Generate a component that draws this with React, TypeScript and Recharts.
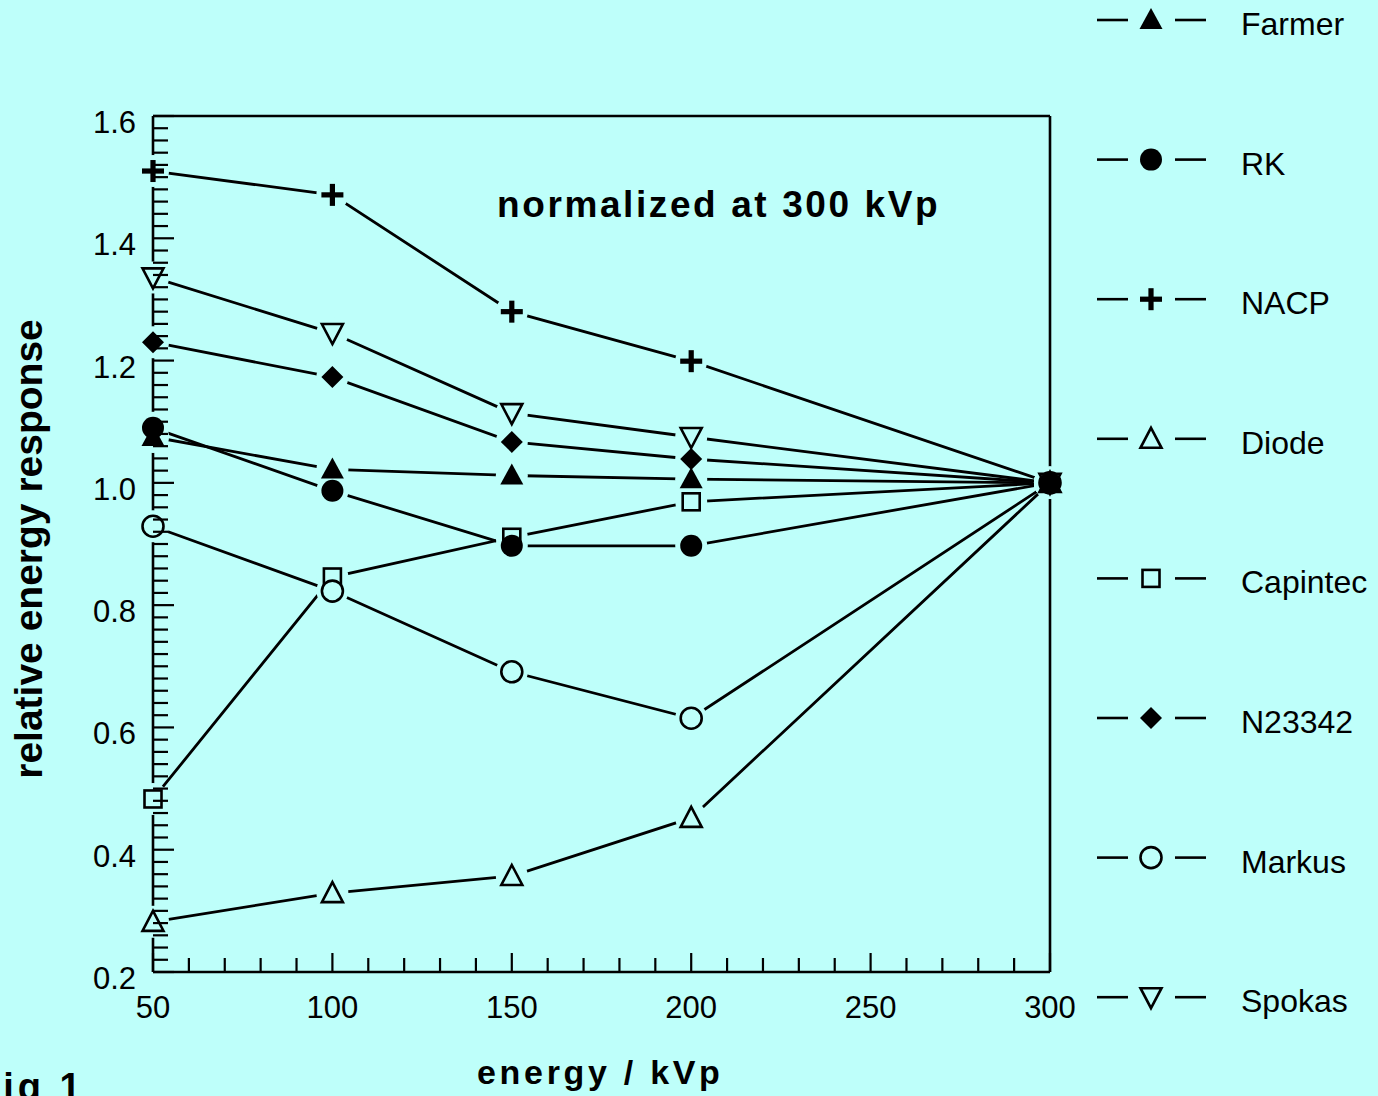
import React from "react";
import { LineChart, Line, XAxis, YAxis } from "recharts";

const BG = "#befffa";
const FONT = "'Liberation Sans', Arial, Helvetica, sans-serif";

const energies = [50, 100, 150, 200, 300];

const farmer = [1.075, 1.022, 1.012, 1.006, 1.0];
const rk = [1.09, 0.987, 0.897, 0.897, 1.0];
const nacp = [1.51, 1.471, 1.28, 1.199, 1.0];
const diode = [0.282, 0.329, 0.357, 0.452, 1.0];
const capintec = [0.483, 0.846, 0.911, 0.969, 1.0];
const n23342 = [1.23, 1.173, 1.067, 1.039, 1.0];
const markus = [0.929, 0.823, 0.691, 0.615, 1.0];
const spokas = [1.336, 1.245, 1.114, 1.075, 1.0];

const xMajorTicks = [50, 100, 150, 200, 250, 300];
const yMajorTicks = [0.2, 0.4, 0.6, 0.8, 1.0, 1.2, 1.4, 1.6];

// minor ticks: every 10 kVp on x, every 0.02 on y
const xTicks: number[] = [];
for (let e = 50; e <= 300; e += 10) xTicks.push(e);
const yTicks: number[] = [];
for (let h = 20; h <= 160; h += 2) yTicks.push(h / 100);

type Kind = "triUp" | "circle" | "plus" | "triUpOpen" | "square" | "diamond" | "circleOpen" | "triDownOpen";

const series: { name: string; values: number[]; kind: Kind; open: boolean }[] = [
  { name: "Farmer", values: farmer, kind: "triUp", open: false },
  { name: "RK", values: rk, kind: "circle", open: false },
  { name: "NACP", values: nacp, kind: "plus", open: false },
  { name: "Diode", values: diode, kind: "triUpOpen", open: true },
  { name: "Capintec", values: capintec, kind: "square", open: true },
  { name: "N23342", values: n23342, kind: "diamond", open: false },
  { name: "Markus", values: markus, kind: "circleOpen", open: true },
  { name: "Spokas", values: spokas, kind: "triDownOpen", open: true },
];

// open symbols underneath, filled ones on top (they merge into a blob at 300 kVp)
const markerOrder = [...series.filter((s) => s.open), ...series.filter((s) => !s.open)];

const data = energies.map((energy, i) => {
  const row: Record<string, number> = { energy };
  series.forEach((s) => (row[s.name] = s.values[i]));
  return row;
});

function Marker({ cx, cy, kind }: { cx: number; cy: number; kind: Kind }) {
  const sw = 2.6;
  switch (kind) {
    case "triUp":
      return <polygon points={`${cx},${cy - 12} ${cx + 11.5},${cy + 9} ${cx - 11.5},${cy + 9}`} fill="#000" />;
    case "triUpOpen":
      return (
        <polygon
          points={`${cx},${cy - 11} ${cx + 10.5},${cy + 9} ${cx - 10.5},${cy + 9}`}
          fill={BG}
          stroke="#000"
          strokeWidth={sw}
        />
      );
    case "triDownOpen":
      return (
        <polygon
          points={`${cx},${cy + 11} ${cx + 10.5},${cy - 9} ${cx - 10.5},${cy - 9}`}
          fill={BG}
          stroke="#000"
          strokeWidth={sw}
        />
      );
    case "circle":
      return <circle cx={cx} cy={cy} r={11} fill="#000" />;
    case "circleOpen":
      return <circle cx={cx} cy={cy} r={10.5} fill={BG} stroke="#000" strokeWidth={sw} />;
    case "square":
      return <rect x={cx - 8.5} y={cy - 8.5} width={17} height={17} fill={BG} stroke="#000" strokeWidth={sw} />;
    case "diamond":
      return <polygon points={`${cx},${cy - 11} ${cx + 11},${cy} ${cx},${cy + 11} ${cx - 11},${cy}`} fill="#000" />;
    case "plus":
      return (
        <g fill="#000">
          <rect x={cx - 11} y={cy - 2.6} width={22} height={5.2} />
          <rect x={cx - 2.6} y={cy - 11} width={5.2} height={22} />
        </g>
      );
  }
  return null;
}

const XTick = (props: any) => {
  const { x, y, payload } = props;
  const major = xMajorTicks.includes(payload.value);
  return (
    <g>
      <line x1={x} y1={y} x2={x} y2={y - (major ? 19 : 14)} stroke="#000" strokeWidth={2.2} />
      {major && (
        <text x={x} y={y + 46} textAnchor="middle" fontSize={31} fontFamily={FONT} fill="#000">
          {payload.value}
        </text>
      )}
    </g>
  );
};

const YTick = (props: any) => {
  const { x, y, payload } = props;
  const major = yMajorTicks.some((t) => Math.abs(t - payload.value) < 1e-6);
  return (
    <g>
      <line x1={x} y1={y} x2={x + (major ? 21 : 15)} y2={y} stroke="#000" strokeWidth={2.2} />
      {major && (
        <text x={x - 17} y={y + 17} textAnchor="end" fontSize={31} fontFamily={FONT} fill="#000">
          {payload.value.toFixed(1)}
        </text>
      )}
    </g>
  );
};

const legendTop = 20;
const legendStep = 139.6;

export default function App() {
  return (
    <div style={{ position: "absolute", left: 0, top: 0, width: 1378, height: 1096, background: BG, overflow: "hidden" }}>
      <LineChart width={1378} height={1096} data={data} margin={{ top: 115, right: 327, bottom: 123, left: 152 }}>
        {series.map((s) => (
          <Line
            key={`line-${s.name}`}
            dataKey={s.name}
            type="linear"
            stroke="#000"
            strokeWidth={2.8}
            dot={false}
            activeDot={false}
            isAnimationActive={false}
            legendType="none"
          />
        ))}
        {series.map((s) => (
          <Line
            key={`halo-${s.name}`}
            dataKey={s.name}
            stroke="none"
            dot={(p: any) => <circle key={`h-${s.name}-${p.index}`} cx={p.cx} cy={p.cy} r={16} fill={BG} />}
            activeDot={false}
            isAnimationActive={false}
            legendType="none"
          />
        ))}
        <XAxis
          dataKey="energy"
          type="number"
          domain={[50, 300]}
          ticks={xTicks}
          interval={0}
          tickSize={0}
          tickMargin={0}
          height={1}
          tick={XTick}
          tickLine={false}
          axisLine={{ stroke: "#000", strokeWidth: 2.6 }}
        />
        <XAxis
          xAxisId="top"
          orientation="top"
          type="number"
          domain={[50, 300]}
          height={1}
          tick={false}
          tickLine={false}
          axisLine={{ stroke: "#000", strokeWidth: 2.6 }}
        />
        <YAxis
          type="number"
          domain={[0.2, 1.6]}
          ticks={yTicks}
          interval={0}
          tickSize={0}
          tickMargin={0}
          width={1}
          tick={YTick}
          tickLine={false}
          axisLine={{ stroke: "#000", strokeWidth: 2.6 }}
        />
        <YAxis
          yAxisId="right"
          orientation="right"
          type="number"
          domain={[0.2, 1.6]}
          width={1}
          tick={false}
          tickLine={false}
          axisLine={{ stroke: "#000", strokeWidth: 2.6 }}
        />
        {markerOrder.map((s) => (
          <Line
            key={`mark-${s.name}`}
            dataKey={s.name}
            stroke="none"
            dot={(p: any) => (
              <g key={`m-${s.name}-${p.index}`}>
                <Marker cx={p.cx} cy={p.cy} kind={s.kind} />
              </g>
            )}
            activeDot={false}
            isAnimationActive={false}
            legendType="none"
          />
        ))}
      </LineChart>
      <svg width={1378} height={1096} style={{ position: "absolute", left: 0, top: 0, pointerEvents: "none" }}>
        <text x={497} y={217} fontSize={37} fontWeight="bold" letterSpacing={2.6} fontFamily={FONT} fill="#000">
          normalized at 300 kVp
        </text>
        <text
          x={42}
          y={549}
          transform="rotate(-90 42 549)"
          textAnchor="middle"
          fontSize={39}
          fontWeight="bold"
          fontFamily={FONT}
          fill="#000"
        >
          relative energy response
        </text>
        <text x={477} y={1084} fontSize={34} fontWeight="bold" letterSpacing={3.7} fontFamily={FONT} fill="#000">
          energy / kVp
        </text>
        <text x={-24} y={1100} fontSize={38} fontWeight="bold" letterSpacing={4} fontFamily={FONT} fill="#000">
          Fig 1
        </text>
        {series.map((s, i) => {
          const y = legendTop + i * legendStep;
          return (
            <g key={`leg-${s.name}`}>
              <line x1={1097} y1={y} x2={1128} y2={y} stroke="#000" strokeWidth={2.6} />
              <line x1={1175} y1={y} x2={1206} y2={y} stroke="#000" strokeWidth={2.6} />
              <Marker cx={1151} cy={y} kind={s.kind} />
              <text x={1241} y={y + 15} fontSize={32} fontFamily={FONT} fill="#000">
                {s.name}
              </text>
            </g>
          );
        })}
      </svg>
    </div>
  );
}
